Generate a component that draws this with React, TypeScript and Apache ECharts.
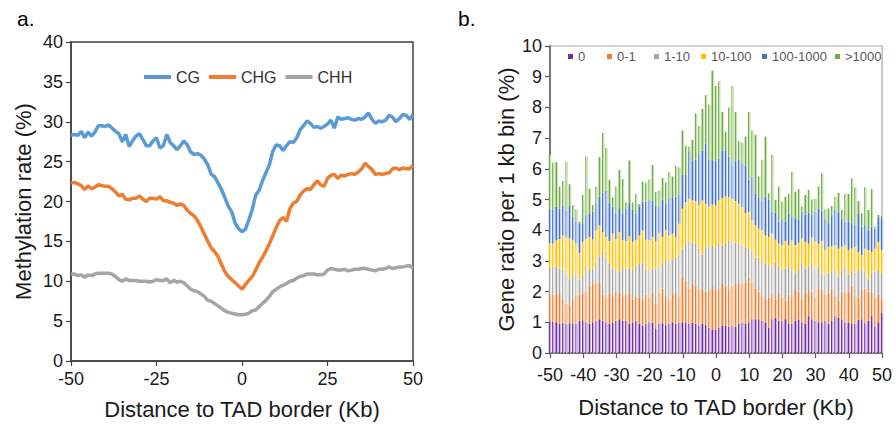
import React, { useEffect, useRef } from "react";
import * as echarts from "echarts";

// Distance to TAD border (kb), one point / bar per kb
const positions: number[] = Array.from({ length: 101 }, (_, i) => i - 50);

// ---- Panel a: methylation rate (%) ----
const cgRate = [
  28.3, 28.4, 28.3, 28.8, 28.0, 28.7, 28.2, 28.7, 29.5, 29.5,
  29.4, 29.6, 29.2, 28.8, 28.5, 27.5, 28.4, 26.9, 27.6, 28.2,
  28.5, 27.8, 27.0, 27.0, 27.6, 28.0, 26.7, 27.0, 28.4, 27.4,
  27.0, 26.5, 27.0, 27.6, 27.1, 26.2, 25.9, 26.0, 25.8, 25.3,
  24.6, 23.4, 23.1, 22.3, 21.5, 20.5, 19.4, 18.7, 17.3, 16.6,
  16.2,
  16.5, 17.7, 19.0, 20.8, 21.4, 22.6, 23.6, 24.6, 26.3, 27.1,
  27.0, 26.4, 27.0, 27.5, 27.4, 28.0, 29.0, 29.5, 30.1, 29.8,
  29.3, 29.4, 29.2, 29.4, 29.7, 30.2, 29.2, 30.6, 30.3, 30.4,
  30.5, 30.3, 30.2, 30.4, 30.3, 30.6, 31.1, 30.3, 29.8, 30.1,
  30.0, 30.2, 30.8, 30.6, 30.0, 30.4, 30.9, 30.8, 30.3, 30.9,
];
const chgRate = [
  22.3, 22.4, 22.2, 22.0, 21.5, 21.95, 21.6, 21.8, 22.1, 22.0,
  21.9, 21.9, 21.6, 21.2, 20.7, 20.9, 20.3, 20.2, 20.4, 20.4,
  20.7, 20.3, 20.0, 20.4, 20.4, 20.3, 20.6, 20.1, 20.1, 19.9,
  19.8, 19.5, 19.7, 19.5, 18.9, 18.5, 18.2, 17.6, 16.8, 15.9,
  15.0, 14.2, 13.7, 13.1, 12.1, 11.2, 10.6, 10.2, 9.8, 9.4,
  9.0,
  9.6, 10.1, 10.6, 11.4, 12.3, 13.0, 13.8, 14.7, 15.7, 16.75,
  17.6, 18.0, 17.5, 19.1, 19.8, 20.0, 20.8, 21.3, 21.6, 21.5,
  22.1, 22.6, 22.1, 21.9, 22.9, 23.3, 23.4, 22.9, 23.3, 23.2,
  23.4, 23.5, 23.4, 23.7, 24.1, 24.8, 24.4, 24.0, 23.4, 23.5,
  23.4, 23.5, 23.6, 24.1, 24.2, 24.0, 24.2, 24.1, 24.1, 24.5,
];
const chhRate = [
  10.9, 10.9, 10.7, 10.8, 10.5, 10.8, 10.7, 10.9, 11.0, 11.0,
  11.0, 11.0, 10.9, 10.6, 10.2, 10.0, 10.3, 10.1, 10.1, 10.1,
  10.0, 10.0, 10.0, 9.9, 10.0, 10.2, 10.1, 10.1, 10.3, 9.8,
  10.1, 9.9, 10.0, 9.8, 9.4, 9.0, 8.8, 8.7, 8.4, 8.1,
  7.6, 7.5, 7.2, 6.9, 6.6, 6.3, 6.1, 6.0, 5.9, 5.8,
  5.8,
  5.85, 6.0, 6.3, 6.4, 6.8, 7.2, 7.6, 8.1, 8.7, 9.0,
  9.3, 9.5, 9.7, 10.0, 10.1, 10.4, 10.6, 10.7, 10.9, 10.9,
  10.9, 10.8, 10.8, 10.9, 11.4, 11.6, 11.5, 11.4, 11.4, 11.5,
  11.3, 11.4, 11.5, 11.5, 11.6, 11.6, 11.5, 11.4, 11.3, 11.5,
  11.5, 11.6, 11.8, 11.6, 11.7, 11.8, 11.8, 11.9, 11.95, 11.6,
];
const contexts = ["CG", "CHG", "CHH"];
const contextRates = [cgRate, chgRate, chhRate];
const contextColors = ["#5B9BD5", "#ED7D31", "#A5A5A5"];

// ---- Panel b: gene ratio per 1 kb bin (%), cumulative top of each class as read ----
const topClass0 = [
  1.02, 1.02, 1.0, 0.95, 0.98, 0.95, 0.97, 0.97, 0.95, 1.05,
  1.07, 1.0, 0.95, 1.0, 1.05, 1.1, 1.05, 1.0, 0.95, 1.0,
  1.05, 1.1, 1.05, 1.05, 0.95, 1.0, 1.05, 0.95, 0.9, 0.95,
  1.0, 0.98, 0.8, 0.95, 0.97, 0.92, 0.95, 1.0, 0.95, 0.98,
  1.0, 0.98, 0.95, 0.98, 0.95, 0.9, 0.95, 0.92, 0.82, 0.75,
  0.75, 0.82, 0.9, 0.88, 0.85, 0.88, 0.85, 0.95, 0.98, 0.95,
  1.0, 1.1, 1.1, 1.1, 1.05, 1.0, 0.82, 1.1, 1.15, 1.05,
  1.05, 1.1, 0.95, 0.95, 1.05, 1.08, 1.0, 0.95, 1.2, 1.1,
  1.05, 1.0, 1.0, 1.05, 0.95, 1.05, 1.2, 1.15, 1.1, 1.0,
  0.98, 0.97, 0.95, 1.08, 1.1, 0.97, 1.05, 1.2, 0.85, 1.0,
  1.3,
];
const topClass0to1 = [
  1.88, 1.9, 1.92, 1.95, 1.75, 1.6, 1.55, 1.75, 1.85, 1.9,
  1.95, 2.0, 2.2, 2.25, 2.28, 2.28, 1.9, 1.85, 1.95, 1.85,
  2.0, 1.95, 1.85, 1.9, 1.95, 1.75, 1.85, 1.8, 1.75, 1.9,
  1.8, 1.95, 1.6, 1.95, 2.1, 1.85, 1.75, 1.95, 1.95, 1.85,
  2.5, 2.35, 2.1, 2.25, 2.2, 2.1, 2.05, 2.0, 2.05, 2.15,
  2.05, 2.1, 2.25, 2.2, 2.05, 2.2, 2.25, 2.3, 2.25, 2.3,
  2.45, 2.3, 2.1, 2.0, 1.85, 1.75, 1.8, 1.95, 1.75, 1.95,
  1.8, 1.7, 1.9, 1.85, 2.05, 2.0, 1.75, 1.95, 2.05, 2.0,
  1.8, 2.1, 2.05, 1.9, 1.95, 2.1, 1.85, 1.7, 2.0, 1.95,
  2.0, 2.2, 1.85, 1.8, 2.05, 2.1, 2.0, 1.95, 1.8, 1.9,
  1.75,
];
const topClass1to10 = [
  2.75, 2.8, 2.82, 2.75, 2.72, 2.6, 2.4, 2.55, 2.6, 2.38,
  2.55, 2.8, 2.7, 2.75, 2.95, 3.15, 3.3, 3.1, 2.9, 2.75,
  2.7, 2.65, 2.8, 2.75, 2.75, 2.7, 2.8, 2.9, 2.95, 2.75,
  2.7, 2.75, 2.75, 2.8, 2.9, 3.0, 2.95, 3.05, 3.1, 3.2,
  3.4, 3.55, 3.65, 3.6, 3.55, 3.4, 3.2, 3.45, 3.45, 3.5,
  3.45, 3.55, 3.5, 3.55, 3.65, 3.6, 3.6, 3.55, 3.5, 3.45,
  3.4, 3.3, 3.1, 3.1, 3.0, 2.9, 2.85, 2.8, 2.95, 2.8,
  2.7, 2.75, 2.8, 2.7, 2.6, 2.7, 2.95, 2.75, 2.8, 2.9,
  2.75, 2.8, 2.6, 2.55, 2.6, 2.65, 2.7, 2.5, 2.7, 2.8,
  2.55, 2.65, 2.6, 2.7, 2.7, 2.65, 2.4, 2.6, 2.65, 2.7,
  2.6,
];
const topClass10to100 = [
  3.59, 3.56, 3.67, 3.71, 3.83, 3.76, 3.73, 3.67, 3.56, 3.26,
  3.62, 3.71, 3.78, 3.69, 4.0, 4.16, 3.94, 3.78, 3.64, 3.89,
  3.71, 3.94, 3.67, 3.64, 3.8, 3.62, 3.67, 3.83, 4.0, 3.69,
  3.67, 3.78, 3.64, 3.91, 3.78, 4.0, 3.83, 3.89, 3.78, 4.21,
  4.7, 4.91, 5.02, 4.97, 4.95, 4.81, 4.97, 4.86, 4.77, 4.84,
  4.81, 4.97, 5.05, 5.1, 5.08, 5.02, 4.95, 4.86, 4.75, 4.56,
  4.59, 4.32, 4.16, 4.05, 4.0, 3.83, 3.78, 3.89, 3.69, 3.56,
  3.51, 3.65, 3.51, 3.67, 3.51, 3.59, 3.73, 3.62, 3.56, 3.76,
  3.62, 3.56, 3.65, 3.35, 3.46, 3.48, 3.51, 3.4, 3.46, 3.51,
  3.35, 3.4, 3.46, 3.29, 3.19, 3.4, 3.35, 3.29, 3.4, 3.62,
  3.35,
];
const topClass100to1000 = [
  4.68, 4.66, 4.77, 4.71, 4.79, 4.64, 4.79, 4.44, 4.28, 4.2,
  4.23, 4.5, 4.55, 4.6, 4.88, 5.09, 5.22, 5.29, 4.88, 4.77,
  4.55, 4.69, 4.55, 4.71, 4.88, 4.66, 4.55, 4.77, 4.93, 4.93,
  5.0, 4.96, 4.8, 4.75, 5.0, 4.85, 5.05, 5.05, 5.1, 5.15,
  5.8, 5.8, 6.55, 6.25, 6.3, 6.45, 6.6, 6.82, 6.3, 6.28,
  6.25, 6.33, 6.6, 6.58, 6.4, 6.1, 6.25, 6.3, 6.18, 6.1,
  5.65, 5.75, 5.2, 5.05, 4.95, 5.09, 5.0, 4.6, 4.57, 4.28,
  4.33, 4.28, 4.53, 4.42, 4.39, 4.33, 4.6, 4.5, 4.57, 4.5,
  4.6, 4.71, 4.64, 4.36, 4.23, 4.5, 4.66, 4.6, 4.39, 4.28,
  4.28, 4.25, 4.17, 4.55, 4.12, 4.17, 4.0, 4.12, 4.05, 4.4,
  4.38,
];
const topClassOver1000 = [
  6.45, 6.2, 6.22, 5.42, 5.6, 6.23, 5.5, 4.82, 4.68, 4.28,
  5.15, 6.41, 5.35, 4.82, 5.42, 6.38, 7.17, 6.68, 5.63, 5.07,
  5.42, 5.96, 5.67, 4.91, 6.27, 4.9, 5.18, 4.85, 5.58, 5.55,
  5.66, 6.12, 5.25, 5.3, 5.7, 5.55, 5.9, 5.75, 6.1, 6.05,
  7.25, 6.75, 6.72, 6.95, 7.8, 7.4, 7.95, 8.4, 8.1, 9.2,
  8.7, 8.85, 7.85, 7.2, 8.0, 8.7, 7.85, 6.9, 6.85, 7.05,
  7.85, 7.25, 7.1, 5.75, 6.3, 7.05, 5.2, 6.45, 4.98, 5.42,
  4.93, 5.09, 5.18, 5.9, 5.25, 5.34, 4.77, 5.15, 5.31, 5.0,
  5.03, 5.42, 5.85, 4.68, 4.71, 4.79, 5.09, 5.22, 4.66, 5.18,
  5.18, 5.69, 5.4, 4.95, 4.55, 5.4, 4.66, 5.34, 4.12, 4.5,
  4.46,
];
const expressionClasses = ["0", "0-1", "1-10", "10-100", "100-1000", ">1000"];
const classTops = [topClass0, topClass0to1, topClass1to10, topClass10to100, topClass100to1000, topClassOver1000];
const classDark = ["#7030A0", "#ED7D31", "#A5A5A5", "#FFC000", "#4472C4", "#70AD47"];
const classLight = ["#C8AEE0", "#FACDAA", "#E4E4E4", "#FFE594", "#B6C8EC", "#C3E0AE"];
const legendLefts = [563, 602, 649, 696, 757, 830];

const FONT = '"Liberation Sans", Arial, sans-serif';
const TXT = "#1a1a1a";

export default function App() {
  const ref = useRef<HTMLDivElement>(null);
  useEffect(() => {
    if (!ref.current) return;
    const chart = echarts.init(ref.current, null, { renderer: "svg" });

    const lineSeries = contexts.map((name, k) => ({
      name,
      type: "line",
      xAxisIndex: 0,
      yAxisIndex: 0,
      symbol: "none",
      showSymbol: false,
      color: contextColors[k],
      lineStyle: { width: 3.5, color: contextColors[k] },
      data: positions.map((x, i) => [x, contextRates[k][i]]),
      z: 5 - k,
    }));

    const barSeries = expressionClasses.map((name, k) => ({
      name,
      type: "bar",
      xAxisIndex: 1,
      yAxisIndex: 1,
      stack: "genes",
      barWidth: 2.4,
      itemStyle: {
        color: {
          type: "linear", x: 0, y: 0, x2: 1, y2: 0,
          colorStops: [
            { offset: 0, color: classDark[k] },
            { offset: 0.45, color: classDark[k] },
            { offset: 0.45, color: classLight[k] },
            { offset: 1, color: classLight[k] },
          ],
        },
      },
      data: positions.map((_, i) =>
        Math.round((classTops[k][i] - (k > 0 ? classTops[k - 1][i] : 0)) * 100) / 100
      ),
    }));

    const axisCommon = (color: string) => ({
      axisLine: { show: true, onZero: false, lineStyle: { color, width: 1.5 } },
      axisTick: { show: true, length: 5, lineStyle: { color, width: 1.2 } },
      splitLine: { show: false },
      nameLocation: "middle",
      nameTextStyle: { fontSize: 22, color: TXT, fontFamily: FONT },
    });

    chart.setOption({
      animation: false,
      textStyle: { fontFamily: FONT },
      title: [
        { text: "a.", left: 12, top: 3, textStyle: { fontSize: 21, fontWeight: "normal", color: "#000", fontFamily: FONT } },
        { text: "b.", left: 453, top: 3, textStyle: { fontSize: 21, fontWeight: "normal", color: "#000", fontFamily: FONT } },
      ],
      legend: [
        {
          data: contexts.map((name) => ({ name, icon: "rect" })),
          left: 139,
          top: 64,
          itemWidth: 27,
          itemHeight: 4,
          itemGap: 9,
          textStyle: { fontSize: 16, color: "#333", fontFamily: FONT },
        },
        ...expressionClasses.map((name, k) => ({
          data: [{ name, icon: "rect", itemStyle: { color: classDark[k] } }],
          left: legendLefts[k],
          top: 45,
          itemWidth: 5,
          itemHeight: 5,
          textStyle: { fontSize: 13, color: "#595959", fontFamily: FONT },
        })),
      ],
      grid: [
        { left: 71, top: 42, width: 342, height: 320, show: true, borderColor: "#404040", borderWidth: 1.5, backgroundColor: "transparent" },
        { left: 550, top: 46, width: 332, height: 307, show: true, borderColor: "#A6A6A6", borderWidth: 1.2, backgroundColor: "transparent" },
      ],
      xAxis: [
        {
          type: "value", gridIndex: 0, min: -50, max: 50, interval: 25,
          ...axisCommon("#404040"),
          axisLabel: { fontSize: 18, color: TXT, margin: 9, fontFamily: FONT },
          name: "Distance to TAD border (Kb)", nameGap: 37,
        },
        {
          type: "category", gridIndex: 1, data: positions.map(String), boundaryGap: false,
          ...axisCommon("#595959"),
          axisTick: { show: true, length: 5, interval: 9, lineStyle: { color: "#595959", width: 1.2 } },
          axisLabel: { fontSize: 18, color: TXT, margin: 13, fontFamily: FONT, interval: 9 },
          name: "Distance to TAD border (Kb)", nameGap: 43,
        },
      ],
      yAxis: [
        {
          type: "value", gridIndex: 0, min: 0, max: 40, interval: 5,
          ...axisCommon("#404040"),
          axisLabel: { fontSize: 18, color: TXT, margin: 8, fontFamily: FONT },
          name: "Methylation rate (%)", nameGap: 37,
        },
        {
          type: "value", gridIndex: 1, min: 0, max: 10, interval: 1,
          ...axisCommon("#595959"),
          axisLabel: { fontSize: 18, color: TXT, margin: 8, fontFamily: FONT },
          name: "Gene ratio per 1 kb bin (%)", nameGap: 33,
        },
      ],
      series: [...lineSeries, ...barSeries],
    });

    return () => chart.dispose();
  }, []);

  return (
    <div
      ref={ref}
      style={{ position: "fixed", left: 0, top: 0, width: 896, height: 425, background: "#fff" }}
    />
  );
}
